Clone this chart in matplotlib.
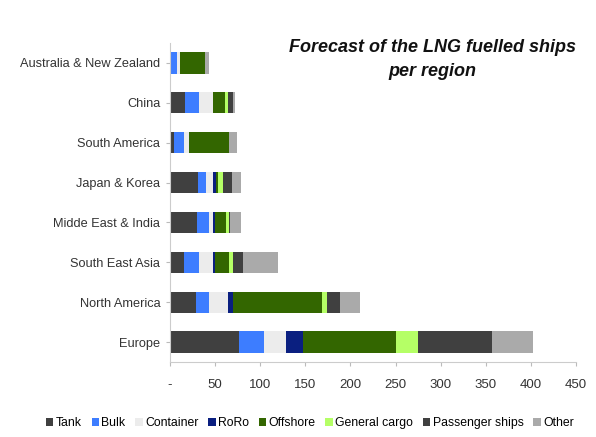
import numpy as np
import matplotlib
matplotlib.use("Agg")
import matplotlib.pyplot as plt
from matplotlib.ticker import FuncFormatter

plt.rcParams['font.family'] = ['Liberation Sans', 'DejaVu Sans']

# regions, bottom to top
regions = ['Europe', 'North America', 'South East Asia', 'Midde East & India',
           'Japan & Korea', 'South America', 'China', 'Australia & New Zealand']

ship_types = ['Tank', 'Bulk', 'Container', 'RoRo', 'Offshore', 'General cargo',
              'Passenger ships', 'Other']

# values, same order as regions
tank       = [77, 29, 16, 30, 31, 4, 17, 1]
bulk       = [27, 14, 16, 13, 9, 12, 15, 7]
container  = [25, 21, 16, 5, 8, 5, 16, 3]
roro       = [18, 6, 2, 2, 3, 0, 0, 0]
offshore   = [104, 98, 15, 12, 2, 44, 13, 28]
gen_cargo  = [24, 6, 5, 3, 6, 0, 3, 0]
passenger  = [82, 14, 11, 2, 10, 0, 6, 0]
other      = [45, 23, 39, 12, 10, 9, 2, 4]

series = [tank, bulk, container, roro, offshore, gen_cargo, passenger, other]
colors = ['#404040', '#3d7dff', '#ececec', '#0a1f80', '#336600', '#b5ff66',
          '#404040', '#aaaaaa']

fig = plt.figure(figsize=(5.96, 4.37), dpi=100)
ax = fig.add_axes([170/596, 1 - 362/437, 406/596, 319/437])

y = np.arange(len(regions))
left = np.zeros(len(regions))
for name, vals, c in zip(ship_types, series, colors):
    ax.barh(y, vals, left=left, height=0.53, color=c, label=name, linewidth=0)
    left += np.array(vals)

ax.set_xlim(0, 450)
ax.set_ylim(-0.5, len(regions) - 0.5)
ax.set_yticks(y)
ax.set_yticklabels(regions, fontsize=9.2)
ax.set_xticks(np.arange(0, 451, 50))
ax.xaxis.set_major_formatter(FuncFormatter(lambda v, p: '-' if v == 0 else '%d' % v))
ax.tick_params(axis='x', labelsize=9.5, colors='#bbbbbb', length=3, pad=9)
ax.tick_params(axis='y', length=3, colors='#bbbbbb', labelcolor='#333333', pad=4)
for lab in ax.get_xticklabels():
    lab.set_color('#333333')
for s in ['top', 'right']:
    ax.spines[s].set_visible(False)
ax.spines['left'].set_color('#cccccc')
ax.spines['bottom'].set_color('#cccccc')

fig.text(0.725, 0.863, 'Forecast of the LNG fuelled ships\nper region', ha='center',
         va='center', fontsize=13, fontweight='bold', fontstyle='italic',
         linespacing=1.55, color='#111111')

fig.legend(loc='center', bbox_to_anchor=(0.52, 1 - 423/437), ncol=8, frameon=False,
           fontsize=8.8, handlelength=0.6, handleheight=0.6, handletextpad=0.2,
           columnspacing=0.8, borderaxespad=0)

fig.savefig('out.png', dpi=100)
